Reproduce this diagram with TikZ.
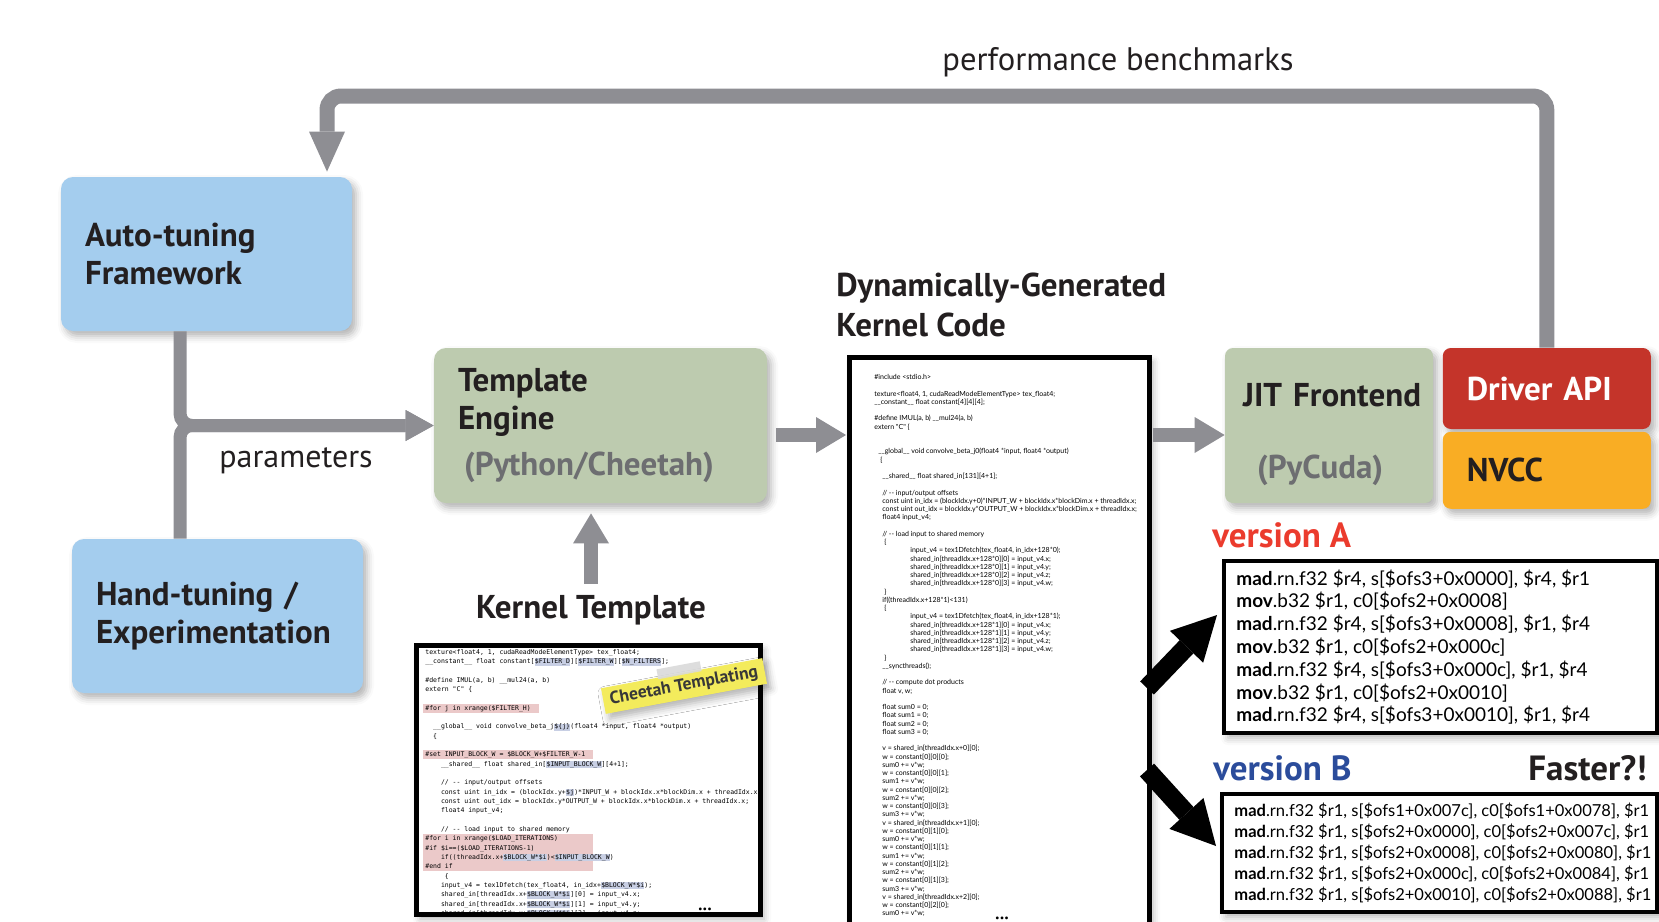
\documentclass[tikz,border=0pt]{standalone}
\usepackage{fontspec}
\setmainfont{PT Sans}
\newfontfamily\monofnt{DejaVu Sans Mono}
\newfontfamily\gillfnt{Lato}
\usepackage{xcolor}
\usetikzlibrary{arrows.meta, positioning, calc, shadows.blur}

\definecolor{flowgray}{HTML}{8E8E93}
\definecolor{tunerblue}{HTML}{A4CDEE}
\definecolor{stagegreen}{HTML}{BDCBAF}
\definecolor{driverred}{HTML}{C4342A}
\definecolor{nvccorange}{HTML}{F9AD24}
\definecolor{inkdark}{HTML}{231F20}
\definecolor{subgray}{HTML}{6D6E71}
\definecolor{versionred}{HTML}{EB3B2D}
\definecolor{versionblue}{HTML}{2B4C9B}
\definecolor{dirpink}{HTML}{EBC9C9}
\definecolor{varblue}{HTML}{C8CFE4}
\definecolor{stickyyellow}{HTML}{F3EB5C}
\definecolor{tapegray}{HTML}{DADADA}

% listing helpers: indent by n chars, variable and directive highlights
\newcommand\ind[1]{\hspace*{#1\fontcharwd\font`x}}
\newcommand\hv[1]{{\fboxsep=0.15pt\colorbox{varblue}{\rule[-0.8pt]{0pt}{3.3pt}#1}}}
\newcommand\dirln[2][85pt]{\hspace*{-1pt}{\fboxsep=0pt\colorbox{dirpink}{\makebox[#1][l]{\rule[-1.3pt]{0pt}{4.66pt}\hspace*{1pt}#2}}}}
\newcommand\asmop[1]{\textbf{#1}}

\begin{document}
\begin{tikzpicture}[
    x=0.5pt, y=-0.5pt,
    softshadow/.style={blur shadow={shadow xshift=2pt, shadow yshift=-2.5pt, shadow blur radius=3.5pt, shadow opacity=30}},
    stage/.style={rectangle, rounded corners=6pt, inner xsep=12pt, align=left, text=inkdark, font=\bfseries\fontsize{16.5}{19}\selectfont, softshadow},
    tuner/.style={stage, fill=tunerblue, minimum width=145.5pt, minimum height=77pt, text width=121.5pt},
    engine/.style={stage, fill=stagegreen, minimum height=77.5pt},
    backend/.style={stage, rounded corners=4pt, minimum width=104pt, text width=80pt},
    heading/.style={font=\bfseries\fontsize{16.5}{20}\selectfont, text=inkdark, inner sep=0pt, align=left},
    caption/.style={font=\fontsize{16}{19}\selectfont, text=inkdark, inner sep=0pt},
    vlabel/.style={font=\bfseries\fontsize{17.5}{20}\selectfont, inner sep=0pt},
    listing/.style={rectangle, fill=white, outer sep=0pt, inner sep=0pt, softshadow},
    frame/.style={line width=2.5pt},
    tplcode/.style={font=\monofnt\fontsize{3.24}{4.66}\selectfont, align=left, inner sep=0pt, anchor=north west},
    gencode/.style={font=\gillfnt\fontsize{3.5}{4.125}\selectfont, align=left, inner sep=0pt, anchor=north west},
    asmbox/.style={rectangle, draw=black, fill=white, line width=2pt, softshadow},
    asmtext/.style={font=\gillfnt\fontsize{9.5}{11.4}\selectfont, align=left, inner sep=0pt, anchor=west},
    sticky/.style={fill=stickyyellow, text=black!78, font=\bfseries\fontsize{8.8}{10}\selectfont, minimum width=82pt, minimum height=13pt, inner sep=0pt, softshadow},
    tape/.style={fill=tapegray, opacity=0.9, minimum width=22pt, minimum height=5pt, inner sep=0pt},
    flow/.style={draw=flowgray, line width=7pt, -{Triangle[length=15pt, width=18pt, line width=0pt]}},
    param/.style={draw=flowgray, line width=6.5pt, rounded corners=6pt, -{Triangle[length=14pt, width=15.5pt, line width=0pt]}},
    feedback/.style={draw=flowgray, line width=7.5pt, rounded corners=7pt, -{Triangle[length=20pt, width=18pt, line width=0pt]}},
    fat/.style={draw=black, line width=9.5pt, -{Triangle[length=22pt, width=23pt, line width=0pt]}},
]
\useasboundingbox (0,0) rectangle (1659,921);
\clip (0,0) rectangle (1659,921);

% Tuning side
\node[tuner] (auto) at (206.5,254) {Auto-tuning\\Framework};
\node[tuner] (hand) at (217.5,616) {Hand-tuning /\\Experimentation};

% Template engine and the toolchain
\node[engine, minimum width=166.5pt, text width=142.5pt] (tmpl) at (600.5,425.5)
    {Template\\Engine\\[4pt]\hspace*{3pt}{\color{subgray}(Python/Cheetah)}};
\node[backend, fill=stagegreen, minimum height=77.5pt, inner xsep=9pt, text width=86pt, text depth=30.5pt] (jit) at (1329,425.5)
    {\mbox{JIT Frontend}\\[17pt]\hspace*{7pt}{\color{subgray}(PyCuda)}};
\node[backend, fill=driverred, text=white, minimum height=40.5pt, right=4.5pt of jit.north east, anchor=north west] (driver) {Driver API};
\node[backend, fill=nvccorange, minimum height=38.5pt, below=1pt of driver] (nvcc) {NVCC};

% Kernel template listing
\node[listing, minimum width=172pt, minimum height=134.5pt] (tpl) at (588,779.5) {};
\begin{scope}
\clip (tpl.north west) rectangle (tpl.south east);
\node[tplcode] (tpltext) at (425,649) {%
texture<float4, 1, cudaReadModeElementType> tex\_float4;\\
\_\_constant\_\_ float constant[\hv{\$FILTER\_D}][\hv{\$FILTER\_W}][\hv{\$N\_FILTERS}];\\[4.66pt]
\#define IMUL(a, b) \_\_mul24(a, b)\\
extern "C" \{\\[4.66pt]
\dirln[58pt]{\#for j in xrange(\$FILTER\_H)}\\[4.66pt]
\ind{2}\_\_global\_\_ void convolve\_beta\_j\hv{\$\{j\}}(float4 *input, float4 *output)\\
\ind{2}\{\\[4.66pt]
\dirln{\#set INPUT\_BLOCK\_W = \$BLOCK\_W+\$FILTER\_W-1}\\
\ind{4}\_\_shared\_\_ float shared\_in[\hv{\$INPUT\_BLOCK\_W}][4+1];\\[4.66pt]
\ind{4}// -{}- input/output offsets\\
\ind{4}const uint in\_idx = (blockIdx.y+\hv{\$j})*INPUT\_W + blockIdx.x*blockDim.x + threadIdx.x;\\
\ind{4}const uint out\_idx = blockIdx.y*OUTPUT\_W + blockIdx.x*blockDim.x + threadIdx.x;\\
\ind{4}float4 input\_v4;\\[4.66pt]
\ind{4}// -{}- load input to shared memory\\
\dirln{\#for i in xrange(\$LOAD\_ITERATIONS)}\\
\dirln{\#if \$i==(\$LOAD\_ITERATIONS-1)}\\
\dirln{\ind{4}if((threadIdx.x+\hv{\$BLOCK\_W*\$i})<\hv{\$INPUT\_BLOCK\_W})}\\
\dirln{\#end if}\\
\ind{5}\{\\
\ind{4}input\_v4 = tex1Dfetch(tex\_float4, in\_idx+\hv{\$BLOCK\_W*\$i});\\
\ind{4}shared\_in[threadIdx.x+\hv{\$BLOCK\_W*\$i}][0] = input\_v4.x;\\
\ind{4}shared\_in[threadIdx.x+\hv{\$BLOCK\_W*\$i}][1] = input\_v4.y;\\
\ind{4}shared\_in[threadIdx.x+\hv{\$BLOCK\_W*\$i}][2] = input\_v4.z;};
\end{scope}
\draw[frame] (tpl.north west) rectangle (tpl.south east);
\node[font=\fontsize{5}{6}\selectfont, inner sep=0pt] (tpldots) at (705,910) {•••};
\node[heading, anchor=base] (tpltitle) at (591,618) {Kernel Template};
\node[sticky, rotate=10.6] (cheetah) at (684,686) {Cheetah Templating};
\node[tape, rotate=10.6, yshift=1.5pt, xshift=-1pt] (cheetahtape) at (cheetah.north) {};

% Generated kernel listing
\node[heading, anchor=north west] (gentitle) at (836,273) {Dynamically-Generated\\Kernel Code};
\node[listing, minimum width=150pt, minimum height=291.5pt] (gen) at (999,648.5) {};
\begin{scope}
\clip (gen.north west) rectangle (gen.south east);
\node[gencode] (gentext) at (874,374) {%
\#include <stdio.h>\\[4.125pt]
texture<float4, 1, cudaReadModeElementType> tex\_float4;\\
\_\_constant\_\_ float constant[4][4][4];\\[4.125pt]
\#define IMUL(a, b) \_\_mul24(a, b)\\
extern "C" \{\\[8.25pt]
\hspace*{2pt}\_\_global\_\_ void convolve\_beta\_j0(float4 *input, float4 *output)\\
\hspace*{3pt}\{\\[4.125pt]
\hspace*{4pt}\_\_shared\_\_ float shared\_in[131][4+1];\\[4.125pt]
\hspace*{4pt}// -{}- input/output offsets\\
\hspace*{4pt}const uint in\_idx = (blockIdx.y+0)*INPUT\_W + blockIdx.x*blockDim.x + threadIdx.x;\\
\hspace*{4pt}const uint out\_idx = blockIdx.y*OUTPUT\_W + blockIdx.x*blockDim.x + threadIdx.x;\\
\hspace*{4pt}float4 input\_v4;\\[4.125pt]
\hspace*{4pt}// -{}- load input to shared memory\\
\hspace*{5pt}\{\\
\hspace*{18pt}input\_v4 = tex1Dfetch(tex\_float4, in\_idx+128*0);\\
\hspace*{18pt}shared\_in[threadIdx.x+128*0][0] = input\_v4.x;\\
\hspace*{18pt}shared\_in[threadIdx.x+128*0][1] = input\_v4.y;\\
\hspace*{18pt}shared\_in[threadIdx.x+128*0][2] = input\_v4.z;\\
\hspace*{18pt}shared\_in[threadIdx.x+128*0][3] = input\_v4.w;\\
\hspace*{5pt}\}\\
\hspace*{4pt}if((threadIdx.x+128*1)<131)\\
\hspace*{5pt}\{\\
\hspace*{18pt}input\_v4 = tex1Dfetch(tex\_float4, in\_idx+128*1);\\
\hspace*{18pt}shared\_in[threadIdx.x+128*1][0] = input\_v4.x;\\
\hspace*{18pt}shared\_in[threadIdx.x+128*1][1] = input\_v4.y;\\
\hspace*{18pt}shared\_in[threadIdx.x+128*1][2] = input\_v4.z;\\
\hspace*{18pt}shared\_in[threadIdx.x+128*1][3] = input\_v4.w;\\
\hspace*{5pt}\}\\
\hspace*{4pt}\_\_syncthreads();\\[4.125pt]
\hspace*{4pt}// -{}- compute dot products\\
\hspace*{4pt}float v, w;\\[4.125pt]
\hspace*{4pt}float sum0 = 0;\\
\hspace*{4pt}float sum1 = 0;\\
\hspace*{4pt}float sum2 = 0;\\
\hspace*{4pt}float sum3 = 0;\\[4.125pt]
\hspace*{4pt}v = shared\_in[threadIdx.x+0][0];\\
\hspace*{4pt}w = constant[0][0][0];\\
\hspace*{4pt}sum0 += v*w;\\
\hspace*{4pt}w = constant[0][0][1];\\
\hspace*{4pt}sum1 += v*w;\\
\hspace*{4pt}w = constant[0][0][2];\\
\hspace*{4pt}sum2 += v*w;\\
\hspace*{4pt}w = constant[0][0][3];\\
\hspace*{4pt}sum3 += v*w;\\
\hspace*{4pt}v = shared\_in[threadIdx.x+1][0];\\
\hspace*{4pt}w = constant[0][1][0];\\
\hspace*{4pt}sum0 += v*w;\\
\hspace*{4pt}w = constant[0][1][1];\\
\hspace*{4pt}sum1 += v*w;\\
\hspace*{4pt}w = constant[0][1][2];\\
\hspace*{4pt}sum2 += v*w;\\
\hspace*{4pt}w = constant[0][1][3];\\
\hspace*{4pt}sum3 += v*w;\\
\hspace*{4pt}v = shared\_in[threadIdx.x+2][0];\\
\hspace*{4pt}w = constant[0][2][0];\\
\hspace*{4pt}sum0 += v*w;};
\end{scope}
\draw[frame] (gen.south west) -- (gen.north west) -- (gen.north east) -- (gen.south east);
\node[font=\fontsize{5}{6}\selectfont, inner sep=0pt] (gendots) at (1002,919) {•••};

% Compiled variants
\node[vlabel, text=versionred, anchor=base west] (labA) at (1212,547) {version A};
\node[asmbox, minimum width=216.5pt, minimum height=86pt] (verA) at (1440.5,647) {};
\node[asmtext] (asmA) at ([xshift=7pt]verA.west) {%
\asmop{mad}.rn.f32 \$r4, s[\$ofs3+0x0000], \$r4, \$r1\\
\asmop{mov}.b32 \$r1, c0[\$ofs2+0x0008]\\
\asmop{mad}.rn.f32 \$r4, s[\$ofs3+0x0008], \$r1, \$r4\\
\asmop{mov}.b32 \$r1, c0[\$ofs2+0x000c]\\
\asmop{mad}.rn.f32 \$r4, s[\$ofs3+0x000c], \$r1, \$r4\\
\asmop{mov}.b32 \$r1, c0[\$ofs2+0x0010]\\
\asmop{mad}.rn.f32 \$r4, s[\$ofs3+0x0010], \$r1, \$r4};
\node[vlabel, text=versionblue, anchor=base west] (labB) at (1213,780) {version B};
\node[vlabel, text=inkdark, anchor=base east] (faster) at (1647,780) {Faster?!};
\node[asmbox, minimum width=217.5pt, minimum height=59pt] (verB) at (1439.5,853) {};
\node[asmtext, font=\gillfnt\fontsize{8.26}{10.5}\selectfont] (asmB) at ([xshift=7pt]verB.west) {%
\asmop{mad}.rn.f32 \$r1, s[\$ofs1+0x007c], c0[\$ofs1+0x0078], \$r1\\
\asmop{mad}.rn.f32 \$r1, s[\$ofs2+0x0000], c0[\$ofs2+0x007c], \$r1\\
\asmop{mad}.rn.f32 \$r1, s[\$ofs2+0x0008], c0[\$ofs2+0x0080], \$r1\\
\asmop{mad}.rn.f32 \$r1, s[\$ofs2+0x000c], c0[\$ofs2+0x0084], \$r1\\
\asmop{mad}.rn.f32 \$r1, s[\$ofs2+0x0010], c0[\$ofs2+0x0088], \$r1};

% Labels
\node[caption, font=\fontsize{16.3}{19}\selectfont, anchor=base] (perflbl) at (1118,70) {performance benchmarks};
\node[caption, anchor=base] (paramlbl) at (296,467) {parameters};

% Arrows
\coordinate (fork) at (180,426);
\coordinate (row) at (0,435);
\coordinate (loop) at (327,96);
\draw[param] (auto.south -| fork) |- (tmpl.west);
\draw[param] (hand.north -| fork) |- (tmpl.west);
\draw[flow, shorten <=4.5pt, shorten >=1.5pt] (tmpl.east |- row) -- (gen.west |- row);
\draw[flow, shorten <=2pt] (gen.east |- row) -- (jit.west |- row);
\draw[flow, shorten <=5.5pt, shorten >=5pt] (tpltitle.north) -- (tpltitle.north |- tmpl.south);
\draw[feedback, shorten >=2.5pt] (driver.north) |- (loop) -- (loop |- auto.north);
\draw[fat] ($(gen.north east)+(-2,331)$) -- ($(verA.north west)+(-5,56)$);
\draw[fat] ($(gen.north east)+(-2,413)$) -- ($(verB.north west)+(-4,54)$);

\end{tikzpicture}
\end{document}
